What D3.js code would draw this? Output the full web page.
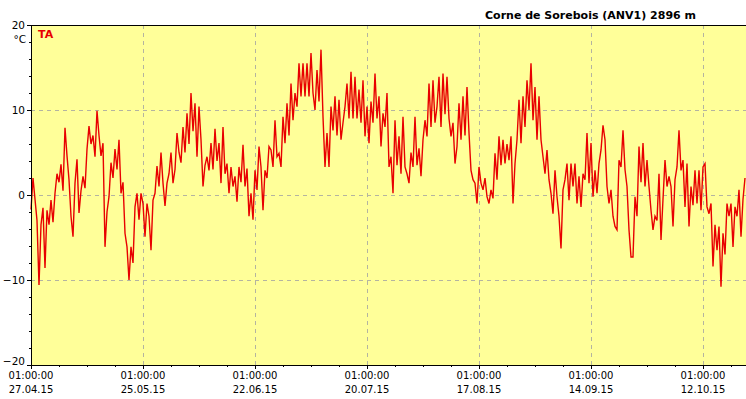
<!DOCTYPE html>
<html>
<head>
<meta charset="utf-8">
<script src="https://cdn.jsdelivr.net/npm/d3@7"></script>
<style>
  body { margin: 0; background: #fff; }
  svg { display: block; font-family: "DejaVu Sans", Verdana, sans-serif; }
</style>
</head>
<body>
<svg></svg>
<script>
// station + series meta
const title = "Corne de Sorebois (ANV1) 2896 m";
const seriesName = "TA";
const unit = "°C";
const startTime = Date.UTC(2015, 3, 27, 1, 0, 0);
const stepDays = 0.5;

// air temperature, one value every 12 h
const temp1 = [
  -1.7, 2.0, -0.5, -3.0, -10.6, -3.5, -1.5, -8.6, -1.8, -3.5, -0.6, -3.2, 0.2, 2.5, 1.5, 3.6,
  0.5, 7.9, 4.6, 1.8, -2.5, -4.9, 1.4, 4.2, -2.1, 0.5, 2.2, 0.8, 5.4, 8.1, 6.0, 7.0,
  4.5, 9.9, 7.0, 4.6, 6.1, -6.1, -2.0, -0.2, 3.8, 2.0, 5.4, 3.0, 6.5, 0.2, 1.5, -4.5,
  -6.1, -10.0, -6.1, -8.0, -1.4, 0.2, -2.9, 0.2, -1.0, -4.9, -1.0, -2.5, -6.5, -0.6, 0.2, 3.4,
  1.0, 5.0, 1.4, -1.3, 1.4, 2.5, 5.0, 1.4, 3.0, 7.3, 5.0, 3.8
];
const temp2 = [
  8.0, 5.0, 9.6, 6.0, 12.0, 7.5, 10.8, 4.5, 10.4, 6.5, 1.0, 3.5, 4.5, 2.9, 6.1, 3.0,
  7.8, 4.0, 6.1, 1.4, 8.0, 2.5, 3.7, 0.2, 3.3, 1.0, 2.2, -0.8, 3.3, 1.5, 5.9, 1.0,
  3.1, -2.5, 0.2, -2.9, 2.9, 0.6, 5.7, 3.3, -1.8, 2.9, 2.0, 5.7, 5.3, 3.3, 8.8, 4.5,
  4.9, 3.3, 9.2, 6.1, 10.8, 7.0, 13.1, 8.8, 12.0, 10.4, 15.5, 11.6, 15.5, 11.6, 15.5, 11.6,
  16.7, 12.0, 10.0, 14.7, 11.0, 17.1, 9.2, 3.3, 7.3, 3.3, 10.4
];
const temp3 = [
  7.6, 11.6, 7.0, 11.2, 6.5, 8.5, 10.4, 13.1, 9.0, 14.5, 9.0, 13.9, 9.0, 12.4, 8.5, 13.5,
  6.9, 10.4, 6.1, 11.0, 8.5, 14.3, 9.0, 11.6, 5.7, 9.6, 8.0, 12.0, 3.3, 4.5, 0.2, 8.8,
  3.5, 6.9, 2.5, 9.2, 3.3, 2.5, 1.4, 5.0, 3.3, 9.2, 3.5, 5.5, 2.2, 6.5, 8.8, 6.9,
  13.1, 8.0, 13.5, 8.5, 10.4, 13.9, 8.0, 14.3, 9.5, 13.9, 9.0, 6.9, 8.5, 3.7, 5.7, 10.8,
  6.5, 11.6, 7.0, 12.7, 7.3, 2.9, 1.8, 1.4, -1.0, 3.3, 1.4
];
const temp4 = [
  0.6, 2.0, -0.2, -1.0, 0.6, -0.4, 4.9, 1.8, 6.9, 3.5, 6.5, 3.7, 6.0, 4.1, 6.9, -1.0,
  3.7, 6.5, 11.2, 6.1, 11.6, 8.0, 13.5, 10.0, 15.5, 8.8, 12.7, 6.5, 11.6, 6.5, 4.5, 2.5,
  5.3, 1.8, 0.2, -2.2, 2.9, -0.2, -2.5, -6.3, 0.6, 1.8, 3.7, -0.6, 3.7, 1.0, 3.7, -1.0,
  2.2, -1.4, 2.5, 1.8, 7.3, 1.4, 6.1, -0.2, 2.9, 0.2, 3.7, 5.3, 8.2, 6.5, 1.0, -1.0,
  0.6, -2.5, -3.7, -4.1, 4.1, 3.3, 7.6, 3.0, 1.0, -4.1, -7.3
];
const temp5 = [
  -7.3, -0.2, -2.5, 5.7, 1.5, 6.1, 1.0, 4.1, 1.0, -1.8, -4.1, -2.5, -3.0, 2.5, -5.3, -0.5,
  4.1, 1.0, 2.2, 1.0, -3.7, 1.8, 3.3, 7.6, 2.9, 4.1, -1.4, 3.7, -3.7, 1.0, -1.2, 2.9,
  -1.0, 2.9, -1.8, 3.3, 3.7, -1.4, -2.2, -1.0, -8.4, -3.5, -6.5, -3.7, -10.8, -4.5, -7.0, -1.0,
  -2.5, -1.0, -6.1, -1.4, -2.5, 0.6, -4.9, -0.5, 2.0
];

const yTicks = [-20, -10, 0, 10, 20];
const tickDays = 28;

const values = temp1.concat(temp2, temp3, temp4, temp5);
const dayMs = 24 * 3600 * 1000;
const data = values.map((v, i) => ({ t: new Date(startTime + i * stepDays * dayMs), v: v }));

const width = 746, height = 399;
const margin = { top: 25, right: 0, bottom: 34, left: 31 };
const endTime = new Date(startTime + 178.75 * dayMs);

const svg = d3.select("svg").attr("width", width).attr("height", height);

const x = d3.scaleUtc()
  .domain([new Date(startTime), endTime])
  .range([margin.left, width - margin.right]);

const y = d3.scaleLinear()
  .domain([-20, 20])
  .range([height - margin.bottom, margin.top]);

// plot background
svg.append("rect")
  .attr("x", margin.left)
  .attr("y", margin.top)
  .attr("width", width - margin.left - margin.right)
  .attr("height", height - margin.top - margin.bottom)
  .attr("fill", "#ffff99");

const majorTimes = d3.range(0, 179, tickDays).map(d => new Date(startTime + d * dayMs));
const minorTimes = d3.range(0, 179, 7).map(d => new Date(startTime + d * dayMs));

// grid
svg.append("g")
  .selectAll("line")
  .data(majorTimes.slice(1))
  .join("line")
    .attr("x1", d => Math.round(x(d)) + 0.5)
    .attr("x2", d => Math.round(x(d)) + 0.5)
    .attr("y1", margin.top)
    .attr("y2", height - margin.bottom)
    .attr("stroke", "#b4b4a0")
    .attr("stroke-dasharray", "4,4");

svg.append("g")
  .selectAll("line")
  .data(yTicks.filter(d => d > -20 && d < 20))
  .join("line")
    .attr("x1", margin.left)
    .attr("x2", width)
    .attr("y1", d => Math.round(y(d)) + 0.5)
    .attr("y2", d => Math.round(y(d)) + 0.5)
    .attr("stroke", "#b4b4a0")
    .attr("stroke-dasharray", "4,4");

// the series
const line = d3.line()
  .x(d => x(d.t))
  .y(d => y(d.v));

svg.append("path")
  .datum(data)
  .attr("d", line)
  .attr("fill", "none")
  .attr("stroke", "#e80000")
  .attr("stroke-width", 1.4)
  .attr("stroke-linejoin", "miter");

// x axis
const xAxis = d3.axisBottom(x)
  .tickValues(majorTimes)
  .tickSize(4)
  .tickSizeOuter(0)
  .tickFormat("");

const gx = svg.append("g")
  .attr("transform", `translate(0, ${height - margin.bottom})`)
  .call(xAxis);

svg.append("g")
  .attr("transform", `translate(0, ${height - margin.bottom})`)
  .call(d3.axisBottom(x).tickValues(minorTimes).tickSize(2).tickSizeOuter(0).tickFormat(""))
  .select(".domain").remove();

const timeFmt = d3.utcFormat("%H:%M:%S");
const dateFmt = d3.utcFormat("%d.%m.%y");

const xl = svg.append("g")
  .selectAll("text")
  .data(majorTimes)
  .join("text")
    .attr("x", d => x(d))
    .attr("text-anchor", "middle")
    .attr("font-size", 10)
    .attr("fill", "#000");
xl.append("tspan").attr("x", d => x(d)).attr("y", 379).text(d => timeFmt(d));
xl.append("tspan").attr("x", d => x(d)).attr("y", 393).text(d => dateFmt(d));

// y axis
const gy = svg.append("g")
  .attr("transform", `translate(${margin.left}, 0)`)
  .call(d3.axisLeft(y).tickValues(yTicks).tickSize(4).tickSizeOuter(0).tickPadding(2));
gy.selectAll("text")
  .attr("font-size", 10.5)
  .attr("font-family", "DejaVu Sans, Verdana, sans-serif")
  .attr("dy", d => d === -20 ? "-0.05em" : "0.32em");

svg.append("g")
  .attr("transform", `translate(${margin.left}, 0)`)
  .call(d3.axisLeft(y).tickValues(d3.range(-20, 21, 2)).tickSize(2).tickSizeOuter(0).tickFormat(""))
  .select(".domain").remove();

gx.select(".domain").attr("stroke", "#000");
gy.select(".domain").attr("stroke", "#000");

// top frame line
svg.append("line")
  .attr("x1", margin.left).attr("x2", width)
  .attr("y1", margin.top + 0.5).attr("y2", margin.top + 0.5)
  .attr("stroke", "#000");

// unit
svg.append("text")
  .attr("x", 26)
  .attr("y", 43)
  .attr("text-anchor", "end")
  .attr("font-size", 10.5)
  .text(unit);

// series label
svg.append("text")
  .attr("x", 38)
  .attr("y", 38)
  .attr("font-size", 11)
  .attr("font-weight", "bold")
  .attr("fill", "#e80000")
  .text(seriesName);

// title
svg.append("text")
  .attr("x", 696)
  .attr("y", 19)
  .attr("text-anchor", "end")
  .attr("font-size", 11)
  .attr("font-weight", "bold")
  .text(title);
</script>
</body>
</html>
